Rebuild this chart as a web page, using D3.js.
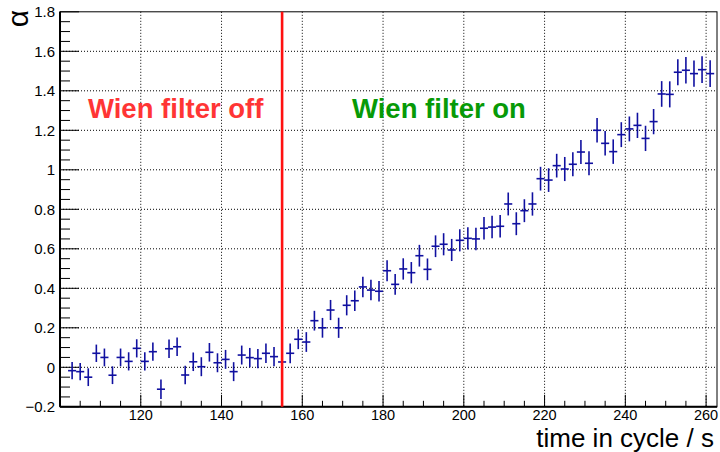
<!DOCTYPE html>
<html><head><meta charset="utf-8">
<script src="https://cdn.jsdelivr.net/npm/d3@7"></script>
<style>body{margin:0;background:#fff}svg{display:block;font-family:"Liberation Sans",Arial,sans-serif}</style>
</head><body><svg id="c" width="720" height="452"></svg>
<script>
const times = [103,105,107,109,111,113,115,117,119,121,123,125,127,129,131,133,135,137,139,141,143,145,147,149,151,153,155,157,159,161,163,165,167,169,171,173,175,177,179,181,183,185,187,189,191,193,195,197,199,201,203,205,207,209,211,213,215,217,219,221,223,225,227,229,231,233,235,237,239,241,243,245,247,249,251,253,255,257,259,261];
const alpha = [-0.017,-0.022,-0.05,0.071,0.05,-0.04,0.05,0.03,0.096,0.03,0.079,-0.111,0.094,0.104,
 -0.039,0.028,0.003,0.076,0.023,0.04,-0.022,0.062,0.049,0.044,0.071,0.054,0.027,0.071,
 0.142,0.128,0.236,0.2,0.29,0.2,0.314,0.337,0.407,0.391,0.385,0.489,0.42,0.498,
 0.479,0.565,0.496,0.613,0.623,0.594,0.643,0.653,0.65,0.704,0.71,0.714,0.827,0.727,
 0.793,0.827,0.955,0.948,1.021,1.004,1.028,1.09,1.033,1.2,1.134,1.092,
 1.178,1.207,1.225,1.159,1.244,1.384,1.382,1.494,1.504,1.487,1.507,1.487];
const alphaErr = [0.044,0.044,0.045,0.044,0.045,0.045,0.045,0.046,0.046,0.046,0.046,0.049,0.047,0.047,
 0.047,0.047,0.048,0.047,0.048,0.048,0.048,0.048,0.049,0.049,0.049,0.049,0.049,0.05,
 0.05,0.05,0.05,0.05,0.051,0.051,0.051,0.052,0.052,0.052,0.052,0.053,0.053,0.054,
 0.054,0.055,0.055,0.055,0.056,0.056,0.056,0.056,0.057,0.057,0.057,0.057,0.058,0.058,
 0.058,0.059,0.06,0.06,0.06,0.061,0.061,0.061,0.061,0.062,0.062,0.062,
 0.063,0.063,0.064,0.064,0.064,0.065,0.066,0.066,0.067,0.067,0.068,0.068];
const binHalf = 1;
const xTicks = [120,140,160,180,200,220,240,260];
const yTicks = [-0.2,0,0.2,0.4,0.6,0.8,1,1.2,1.4,1.6,1.8];
const switchTime = 155;
const labels = ["Wien filter off","Wien filter on"];

const svg = d3.select("#c");
const L=60,R=717,T=11.8,B=406.8;
const x = d3.scaleLinear().domain([100,262.7]).range([L,R]);
const y = d3.scaleLinear().domain([-0.2,1.8]).range([B,T]);

// grid
const g = svg.append("g");
g.selectAll(".gx").data(xTicks).join("line")
 .attr("x1",d=>x(d)).attr("x2",d=>x(d)).attr("y1",T).attr("y2",B)
 .attr("stroke","#000").attr("stroke-width",1).attr("stroke-dasharray","1,2");
g.selectAll(".gy").data(yTicks.filter(d=>d>-0.2 && d<1.8)).join("line")
 .attr("x1",L).attr("x2",R).attr("y1",d=>y(d)).attr("y2",d=>y(d))
 .attr("stroke","#000").attr("stroke-width",1).attr("stroke-dasharray","1,2");

// frame
svg.append("rect").attr("x",L).attr("y",T).attr("width",R-L).attr("height",B-T)
 .attr("fill","none").attr("stroke","#000").attr("stroke-width",1);

// x axis ticks (inward)
const xMinor = d3.range(100,263,5);
svg.append("g").selectAll("line").data(xMinor).join("line")
 .attr("x1",d=>x(d)).attr("x2",d=>x(d)).attr("y1",B)
 .attr("y2",d=>B-(d%20===0?12:6)).attr("stroke","#000").attr("stroke-width",1);
svg.append("g").selectAll("text").data(xTicks).join("text")
 .attr("x",d=>x(d)).attr("y",420).attr("text-anchor","middle")
 .attr("font-size",14.5).text(d=>d);

// y axis ticks (inward)
const yMinor = d3.range(-0.2,1.8001,0.05);
svg.append("g").selectAll("line").data(yMinor).join("line")
 .attr("x1",L).attr("x2",(d,i)=>L+(i%4===0?19:10))
 .attr("y1",d=>y(d)).attr("y2",d=>y(d)).attr("stroke","#000").attr("stroke-width",1);
svg.append("g").selectAll("text").data(yTicks).join("text")
 .attr("x",L-5).attr("y",d=>y(d)+5.5).attr("text-anchor","end")
 .attr("font-size",15).text(d=>d3.format("")(d).replace("-","\u2212"));

// axes lines
svg.append("line").attr("x1",L).attr("x2",L).attr("y1",T).attr("y2",B).attr("stroke","#000").attr("stroke-width",2);
svg.append("line").attr("x1",L).attr("x2",R).attr("y1",B).attr("y2",B).attr("stroke","#000").attr("stroke-width",2);

// data error bars
const data = times.map((t,i)=>({t,v:alpha[i],e:alphaErr[i]}));
const pts = svg.append("g").attr("stroke","#1010a0").attr("stroke-width",1.6);
pts.selectAll(".v").data(data).join("line")
 .attr("x1",d=>x(d.t)).attr("x2",d=>x(d.t)).attr("y1",d=>y(d.v-d.e)).attr("y2",d=>y(d.v+d.e));
pts.selectAll(".h").data(data).join("line")
 .attr("x1",d=>x(d.t-binHalf)).attr("x2",d=>x(d.t+binHalf)).attr("y1",d=>y(d.v)).attr("y2",d=>y(d.v));

// switch line
svg.append("line").attr("x1",x(switchTime)).attr("x2",x(switchTime)).attr("y1",T).attr("y2",B)
 .attr("stroke","#ff1010").attr("stroke-width",2.6);

// labels
svg.append("text").attr("x",88).attr("y",118).attr("font-size",27.5).attr("font-weight","bold")
 .attr("fill","#ff3535").text(labels[0]);
svg.append("text").attr("x",352).attr("y",118).attr("font-size",27.5).attr("font-weight","bold")
 .attr("fill","#079a07").text(labels[1]);

// axis titles
svg.append("text").attr("x",714).attr("y",447).attr("text-anchor","end").attr("font-size",26)
 .text("time in cycle / s");
svg.append("text").attr("transform","translate(28,10) rotate(-90)").attr("text-anchor","end")
 .attr("font-size",30).text("α");
</script></body></html>
